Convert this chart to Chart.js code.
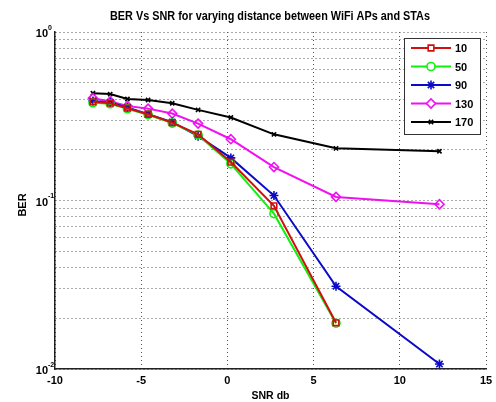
<!DOCTYPE html>
<html><head><meta charset="utf-8">
<script src="https://cdn.jsdelivr.net/npm/chart.js@4"></script>
<style>html,body{margin:0;padding:0;background:#fff}canvas{display:block}</style>
</head><body>
<div style="width:496px;height:402px"><canvas id="c" width="496" height="402"></canvas></div>
<script>
const snr = [-7.8, -6.8, -5.8, -4.6, -3.2, -1.7, 0.2, 2.7, 6.3, 12.3];
const seriesNames = ['10', '50', '90', '130', '170'];
const ber10  = [0.385, 0.378, 0.353, 0.325, 0.290, 0.247, 0.169, 0.093, 0.0188];
const ber50  = [0.380, 0.375, 0.350, 0.323, 0.288, 0.245, 0.165, 0.0835, 0.0187];
const ber90  = [0.390, 0.381, 0.356, 0.325, 0.292, 0.241, 0.179, 0.107, 0.031, 0.0107];
const ber130 = [0.405, 0.387, 0.364, 0.351, 0.328, 0.286, 0.231, 0.158, 0.105, 0.095];
const ber170 = [0.433, 0.428, 0.400, 0.395, 0.378, 0.345, 0.311, 0.247, 0.204, 0.196];
const xTicks = [-10, -5, 0, 5, 10, 15];
const yTicks = [0.01,0.02,0.03,0.04,0.05,0.06,0.07,0.08,0.09,0.1,0.2,0.3,0.4,0.5,0.6,0.7,0.8,0.9,1];
const yMajor = [0.01, 0.1, 1];
const titleText = 'BER Vs SNR for varying distance between WiFi APs and STAs';
const xTitle = 'SNR db';
const yTitle = 'BER';

const FONT = '"Liberation Sans",Arial,sans-serif';
function pts(arr){ return arr.map((v,i)=>({x:snr[i], y:v})); }
const styles = [
  {c:'#d01010', p:'rect', r:4},
  {c:'#10f010', p:'circle', r:4},
  {c:'#0a0ac8', p:'star', r:4.5},
  {c:'#f010f0', p:'rectRot', r:4.5},
  {c:'#000000', p:'crossRot', r:3}
];
const allData = [ber10, ber50, ber90, ber130, ber170];
const datasets = allData.map((d,i)=>({
  label: seriesNames[i], data: pts(d),
  borderColor: styles[i].c, backgroundColor: 'rgba(0,0,0,0)',
  pointStyle: styles[i].p, pointRadius: styles[i].r, pointBorderWidth: 1.6,
  pointBorderColor: styles[i].c, pointBackgroundColor: 'rgba(0,0,0,0)',
  borderWidth: 2, tension: 0, fill: false
}));

function fitText(ctx, text, x, y, maxW){
  const w = ctx.measureText(text).width;
  const s = Math.min(1, maxW / w);
  ctx.save(); ctx.translate(x, y); ctx.scale(s, 1);
  ctx.fillText(text, 0, 0); ctx.restore();
}

const deco = {
  id: 'deco',
  afterDraw(chart){
    const ctx = chart.ctx, xs = chart.scales.x, ys = chart.scales.y, ca = chart.chartArea;
    ctx.save();
    ctx.fillStyle = '#000';
    ctx.font = 'bold 12px ' + FONT;
    ctx.textAlign = 'center'; ctx.textBaseline = 'middle';
    fitText(ctx, titleText, 270, 17, 320);
    ctx.font = 'bold 11px ' + FONT;
    ctx.textBaseline = 'top';
    xTicks.forEach(v=>{ fitText(ctx, String(v), xs.getPixelForValue(v), ca.bottom + 6, 100); });
    fitText(ctx, xTitle, (ca.left+ca.right)/2, ca.bottom + 21, 38);
    yMajor.forEach(v=>{
      const y = ys.getPixelForValue(v);
      const e = Math.round(Math.log10(v));
      ctx.font = 'bold 11px ' + FONT;
      ctx.textAlign = 'right'; ctx.textBaseline = 'middle';
      ctx.fillText('10', ca.left - 7, y + 2);
      ctx.font = 'bold 7px ' + FONT;
      ctx.textAlign = 'left';
      ctx.fillText(String(e), ca.left - 7, y - 4);
    });
    ctx.save();
    ctx.translate(23, 205); ctx.rotate(-Math.PI/2);
    ctx.font = 'bold 11px ' + FONT; ctx.textAlign = 'center'; ctx.textBaseline = 'middle';
    ctx.fillText(yTitle, 0, 0);
    ctx.restore();
    // legend
    const bx = 404, by = 38, bw = 76, bh = 96;
    ctx.fillStyle = '#fff'; ctx.fillRect(bx, by, bw, bh);
    ctx.strokeStyle = '#333'; ctx.lineWidth = 1; ctx.setLineDash([]);
    ctx.strokeRect(bx + 0.5, by + 0.5, bw, bh);
    chart.data.datasets.forEach((ds,i)=>{
      const y = by + 10 + i*18.5;
      ctx.strokeStyle = ds.borderColor; ctx.lineWidth = 2;
      ctx.beginPath(); ctx.moveTo(bx + 7, y); ctx.lineTo(bx + 47, y); ctx.stroke();
      ctx.fillStyle = '#fff';
      ctx.lineWidth = 1.6;
      Chart.helpers.drawPoint(ctx, {pointStyle: ds.pointStyle, radius: ds.pointRadius, borderWidth: 1.6, rotation: 0}, bx + 27, y);
      ctx.fillStyle = '#000';
      ctx.font = 'bold 11px ' + FONT; ctx.textAlign = 'left'; ctx.textBaseline = 'middle';
      fitText(ctx, ds.label, bx + 51, y + 1, 100);
    });
    ctx.restore();
  }
};

new Chart(document.getElementById('c'), {
  type: 'line',
  data: { datasets },
  options: {
    responsive: false, animation: false, devicePixelRatio: 1,
    layout: { padding: { left: 55, right: 10, top: 32, bottom: 33 } },
    plugins: { legend: { display: false }, title: { display: false }, tooltip: { enabled: false } },
    scales: {
      x: {
        type: 'linear', min: -10, max: 15,
        afterBuildTicks: s => { s.ticks = xTicks.map(v=>({value:v})); },
        ticks: { display: false },
        grid: { color: '#555', lineWidth: 1, drawTicks: false, tickLength: 0 },
        border: { display: true, color: '#222', width: 1.5, dash: [1, 3] }
      },
      y: {
        type: 'logarithmic', min: 0.01, max: 1,
        afterBuildTicks: s => { s.ticks = yTicks.map(v=>({value:v})); },
        ticks: { display: false },
        grid: { color: '#555', lineWidth: 1, drawTicks: false, tickLength: 0 },
        border: { display: true, color: '#222', width: 1.5, dash: [1, 3] }
      }
    }
  },
  plugins: [deco]
});
</script>
</body></html>
